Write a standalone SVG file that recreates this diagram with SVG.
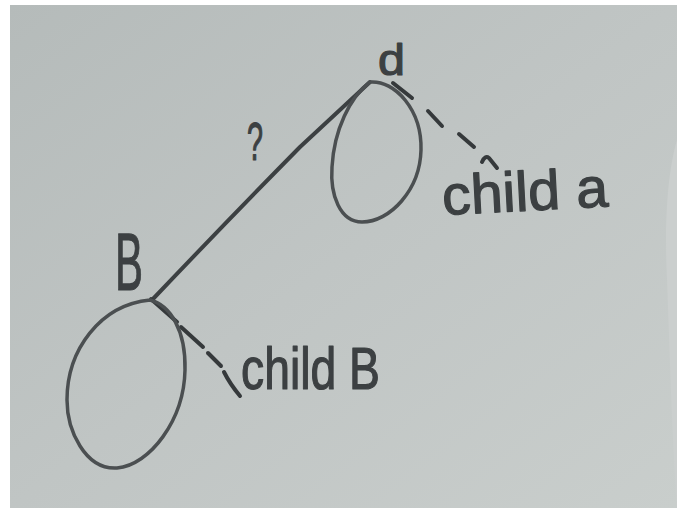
<svg xmlns="http://www.w3.org/2000/svg" width="677" height="508" viewBox="0 0 677 508">
  <defs>
    <linearGradient id="paper" x1="0" y1="0" x2="1" y2="1">
      <stop offset="0" stop-color="#b5bbba"/>
      <stop offset="0.5" stop-color="#c0c5c4"/>
      <stop offset="1" stop-color="#c9cecc"/>
    </linearGradient>
    <style>
      .pencil { fill: none; stroke: #414547; stroke-linecap: round; stroke-linejoin: round; }
      .node { stroke-width: 3.5; stroke: #4b4f51; }
      .edge { stroke-width: 4; stroke: #3c4042; }
      .dash { stroke-width: 4; stroke: #35393b; }
      .hand { font-family: "Liberation Sans", Arial, sans-serif; fill: #3c4042; stroke: #3c4042; stroke-width: 1.2; stroke-linejoin: round; }
    </style>
  </defs>

  <rect x="0" y="0" width="677" height="508" fill="#ffffff"/>
  <rect x="10" y="5" width="667" height="503" fill="url(#paper)"/>
  <path d="M677,140 C668,170 664,220 667,280 C670,360 672,440 677,508 Z" fill="#cbcfce"/>

  <g id="connectors">
    <path class="pencil edge" d="M152,300 Q230,218 300,147 L370,82"/>
    <g id="dash-alpha">
      <path class="pencil dash" d="M393,83 L412,98"/>
      <path class="pencil dash" d="M428,111 L442,126"/>
      <path class="pencil dash" d="M459,134 L474,147"/>
      <path class="pencil dash" stroke-width="3" d="M482,162 Q485,155 489,158 L497,168"/>
    </g>
    <g id="dash-B">
      <path class="pencil dash" stroke-width="5" d="M151,299 L177,322"/>
      <path class="pencil dash" d="M181,327 L203,347"/>
      <path class="pencil dash" d="M208,353 L221,366"/>
      <path class="pencil dash" stroke-width="3" d="M224,372 Q230,384 240,396"/>
    </g>
  </g>

  <g id="node-alpha">
    <path class="pencil node" d="M370,82 C395,80 422,110 421,150 C420,190 390,222 362,222 C340,222 330,195 332,167 C334,130 350,97 370,82"/>
    <text class="hand" x="378" y="75" font-size="44" textLength="27" lengthAdjust="spacingAndGlyphs">d</text>
  </g>

  <g id="node-B">
    <path class="pencil node" d="M150,300 C170,305 186,330 185,370 C184,420 150,465 117,468 C85,470 67,430 67,400 C67,350 100,305 150,300"/>
    <text class="hand" x="115" y="290" font-size="82" textLength="28" lengthAdjust="spacingAndGlyphs">B</text>
  </g>

  <g id="labels">
    <text class="hand" x="247" y="160" font-size="54" textLength="16" lengthAdjust="spacingAndGlyphs" fill="#55595b" stroke="none">?</text>
    <text class="hand" x="443" y="215" font-size="56" textLength="166" lengthAdjust="spacingAndGlyphs" transform="rotate(-3 443 215)">child a</text>
    <text class="hand" x="241" y="389" font-size="60" textLength="139" lengthAdjust="spacingAndGlyphs">child B</text>
  </g>
</svg>
